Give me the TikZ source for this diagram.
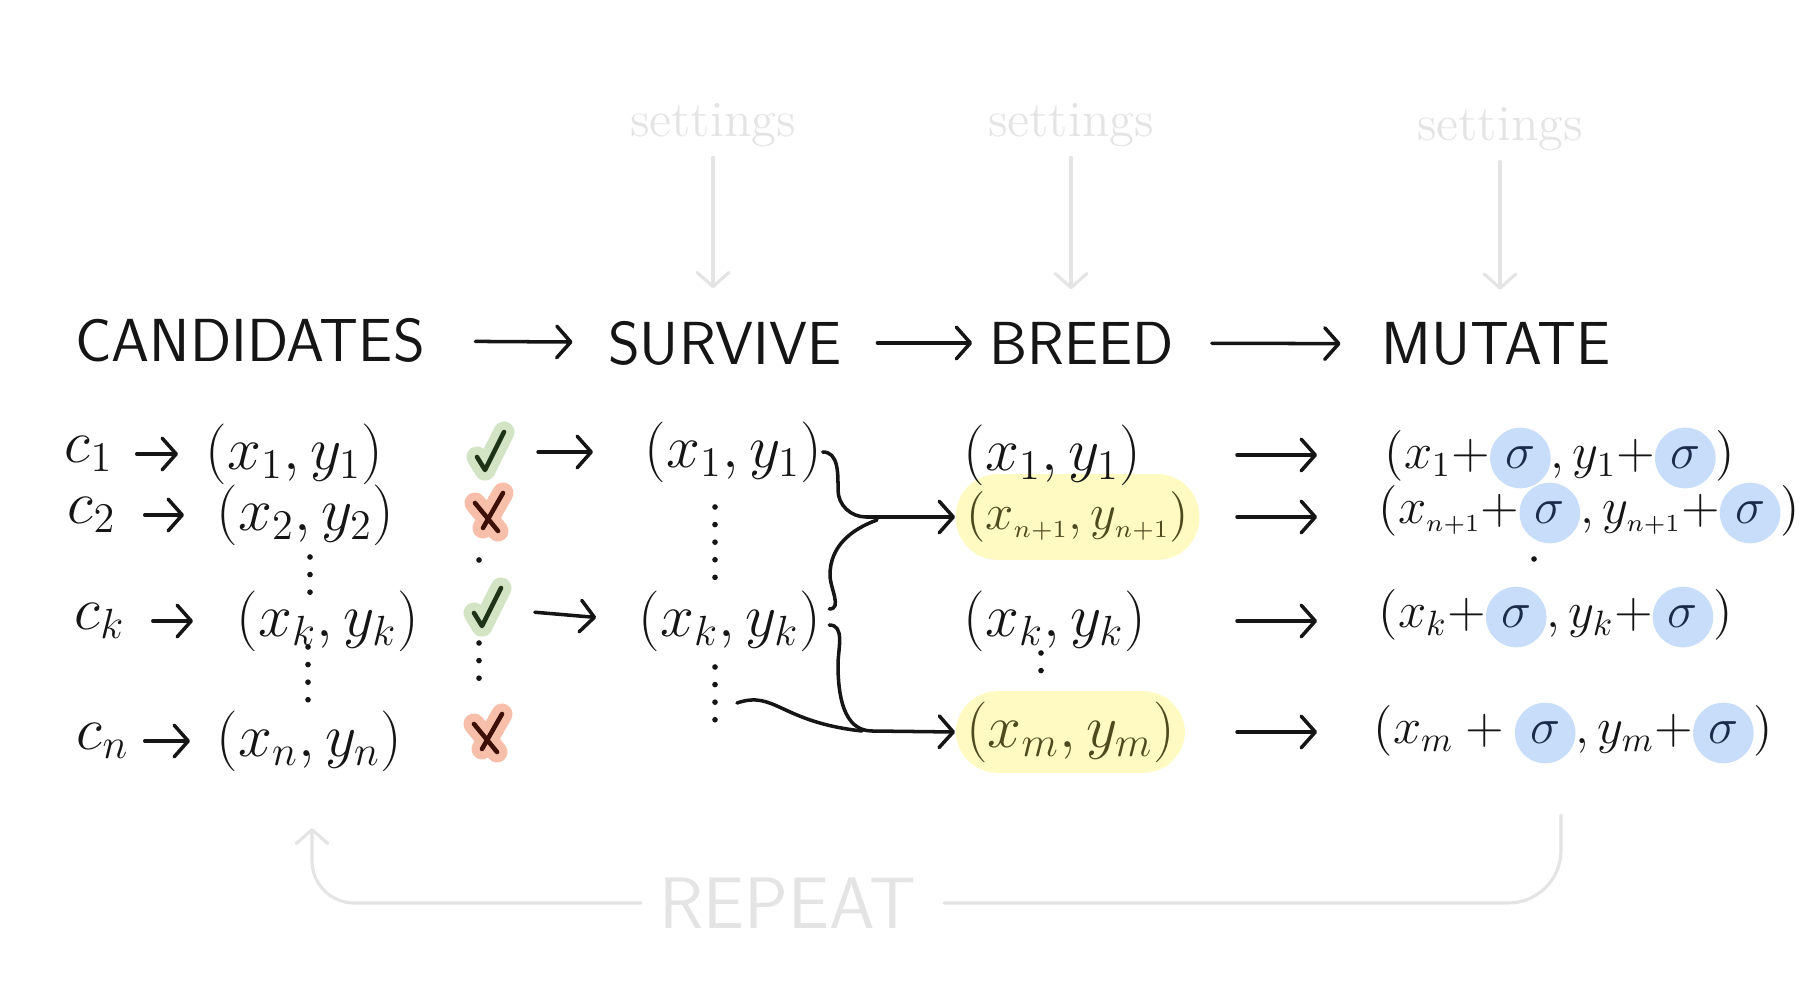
\documentclass[tikz,border=0pt]{standalone}
\usepackage{fontspec}
\usepackage{amsmath}
\usepackage{xcolor}
\usepackage{tikz}
\usetikzlibrary{arrows.meta, positioning, calc}
\definecolor{ink}{HTML}{151515}
\definecolor{faint}{HTML}{E4E4E4}
\definecolor{hlyellow}{HTML}{FFFAC2}
\definecolor{yellowink}{HTML}{4D4A1E}
\definecolor{hlblue}{HTML}{C7DDF9}
\definecolor{sigink}{HTML}{1B2B4B}
\definecolor{okglow}{HTML}{D3E4C4}
\definecolor{okink}{HTML}{1F3318}
\definecolor{noglow}{HTML}{F7BEAA}
\definecolor{noink}{HTML}{3D0F05}
\tikzset{
  sgblob/.style={circle, fill=hlblue, draw=none, text=sigink, inner sep=2.4pt},
}
\newcommand{\sg}{\tikz[baseline=(sg.base)]\node[sgblob] (sg) {$\sigma$};}
\newcommand{\np}{{\scriptscriptstyle n+1}}

\begin{document}
\begin{tikzpicture}[
    x=0.01cm, y=-0.01cm,
    >={Straight Barb[length=4pt, width=9pt, round]},
    lbl/.style={font=\LARGE, text=ink, inner sep=0pt},
    mut/.style={lbl, font=\Large, anchor=west},
    head/.style={font=\LARGE\sffamily, text=ink, inner sep=0pt},
    hintlbl/.style={font=\Large, text=faint, inner sep=0pt},
    pick/.style={lbl, fill=hlyellow, text=yellowink, rounded corners=12pt, inner xsep=3pt, inner ysep=3pt, anchor=west},
    flow/.style={->, ink, line width=1pt, line cap=round},
    wire/.style={ink, line width=1pt, line cap=round},
    hint/.style={faint, line width=0.9pt, line cap=round},
    dots/.style={ink, line width=1.6pt, line cap=round, dash pattern=on 0pt off 5pt},
    okmark/.style={okink, line width=1.3pt, line cap=round, line join=round,
      preaction={draw=okglow, line width=6pt, line cap=round, line join=round}},
    nomark/.style={noink, line width=1.3pt, line cap=round,
      preaction={draw=noglow, line width=6pt, line cap=round}}]

  \useasboundingbox (0,0) rectangle (1804,1004);

  % The four stages along the top, each fed by its settings.
  \node[head] (hCand) at (250,340) {CANDIDATES};
  \node[head] (hSurv) at (725,343) {SURVIVE};
  \node[head] (hBreed) at (1082,343) {BREED};
  \node[head] (hMut) at (1496,344) {MUTATE};
  \draw[flow, shorten <=.5cm, shorten >=.35cm] (hCand) -- (hSurv);
  \draw[flow, shorten <=.35cm, shorten >=.17cm] (hSurv) -- (hBreed);
  \draw[flow, shorten <=.37cm, shorten >=.4cm] (hBreed) -- (hMut);

  \foreach \s/\h/\x/\yy in {set1/hSurv/713/125, set2/hBreed/1071/125, set3/hMut/1500/129} {
    \node[hintlbl] (\s) at (\x,\yy) {settings};
    \draw[hint, ->, shorten <=.1cm, shorten >=.32cm] (\s.south) -- (\s.south |- \h.north);
  }

  % Candidates and what they map to.
  \foreach \n/\yy/\cx/\px/\a/\b in {1/454/89/205/.23/.27, 2/515/92/216/.28/.32,
                                    k/621/100/236/.27/.43, n/741/103/216/.15/.26} {
    \node[lbl] (c\n) at (\cx,\yy) {$c_\n$};
    \node[lbl, anchor=west] (p\n) at (\px,\yy) {$(x_\n, y_\n)$};
    \draw[flow, shorten <=\a cm, shorten >=\b cm] (c\n.east) -- (p\n.west);
  }
  \draw[dots] (310,557) -- (310,597);
  \draw[dots] (308,647) -- (308,712);

  % Who survives.
  \coordinate (ok1) at (488,452);
  \coordinate (no2) at (487,513);
  \coordinate (okk) at (485,608);
  \coordinate (non) at (486,734);
  \foreach \m in {ok1, okk}
    \draw[okmark] ([shift={(-11,5)}]\m) -- ([shift={(-3,18)}]\m) -- ([shift={(16,-20)}]\m);
  \foreach \m in {no2, non}
    \draw[nomark] ([shift={(-12,-10)}]\m) -- ([shift={(11,18)}]\m)
                  ([shift={(16,-20)}]\m) -- ([shift={(-4,15)}]\m);
  \fill[ink] (479,560) circle (0.8pt);
  \draw[dots] (479,643) -- (479,690);

  \node[lbl, anchor=west] (s1) at (644,452) {$(x_1, y_1)$};
  \node[lbl, anchor=west] (sk) at (638,621) {$(x_k, y_k)$};
  \draw[flow, shorten <=.5cm, shorten >=.51cm] (ok1) -- (s1.west);
  \draw[flow, shorten <=.5cm, shorten >=.42cm] (okk) -- (sk.west);
  \draw[dots] (715,507) -- (715,580);
  \draw[dots] (715,667) -- (715,735);
  \coordinate (sdot) at (737,703);

  % Breeding: pairs of survivors give new children.
  \node[pick, font=\Large, inner ysep=5pt] (b2) at (955,517) {$(x_{\np}, y_{\np})$};
  \node[lbl, anchor=west] (b1) at (963,455) {$(x_1, y_1)$};
  \node[lbl, anchor=west] (bk) at (963,621) {$(x_k, y_k)$};
  \node[pick] (bm) at (955,732) {$(x_m, y_m)$};
  \draw[dots] (1041,653) -- (1041,688);

  \coordinate (j1) at (877,520);
  \coordinate (j2) at (862,731);
  \draw[flow] (s1.east) to[out=0,in=90] (838,490) to[out=-90,in=180] (866,517) -- (b2.west);
  \draw[wire] ([shift={(8,-12)}]sk.east) to[out=0,in=-90] (830,575) to[out=90,in=200] (j1);
  \draw[flow] ([shift={(8,4)}]sk.east) to[out=0,in=90] (838,665) to[out=-90,in=180] (872,731) -- (bm.west);
  \draw[wire] (sdot) .. controls (775,690) and (780,722) .. (j2);

  % Mutation: noise on every coordinate.
  \node[mut] (m1) at (1384,458) {$(x_1{+}\mbox{\sg}, y_1{+}\mbox{\sg})$};
  \node[mut] (m2) at (1378,513) {$(x_{\np}{+}\mbox{\sg}{,}\,y_{\np}{+}\mbox{\sg})$};
  \node[mut] (mk) at (1378,617) {$(x_k{+}\mbox{\sg}, y_k{+}\mbox{\sg})$};
  \node[mut] (mm) at (1373,733) {$(x_m + \mbox{\sg}, y_m{+}\mbox{\sg})$};
  \fill[ink] (1534,559) circle (0.8pt);
  \coordinate (mutL) at (1237,0);
  \coordinate (mutR) at (1317,0);
  \foreach \r in {1,2,k,m}
    \draw[flow] (b\r -| mutL) -- (b\r -| mutR);

  % Back to the start.
  \node[head, font=\huge\sffamily, text=faint] (rep) at (788,903) {REPEAT};
  \coordinate (back) at (312,828);
  \coordinate (fromend) at (1561,815);
  \draw[hint, ->, rounded corners=12pt, shorten <=.18cm] (rep.west) -| (back);
  \draw[hint, rounded corners=15pt, shorten <=.27cm] (rep.east) -| (fromend);
\end{tikzpicture}
\end{document}
